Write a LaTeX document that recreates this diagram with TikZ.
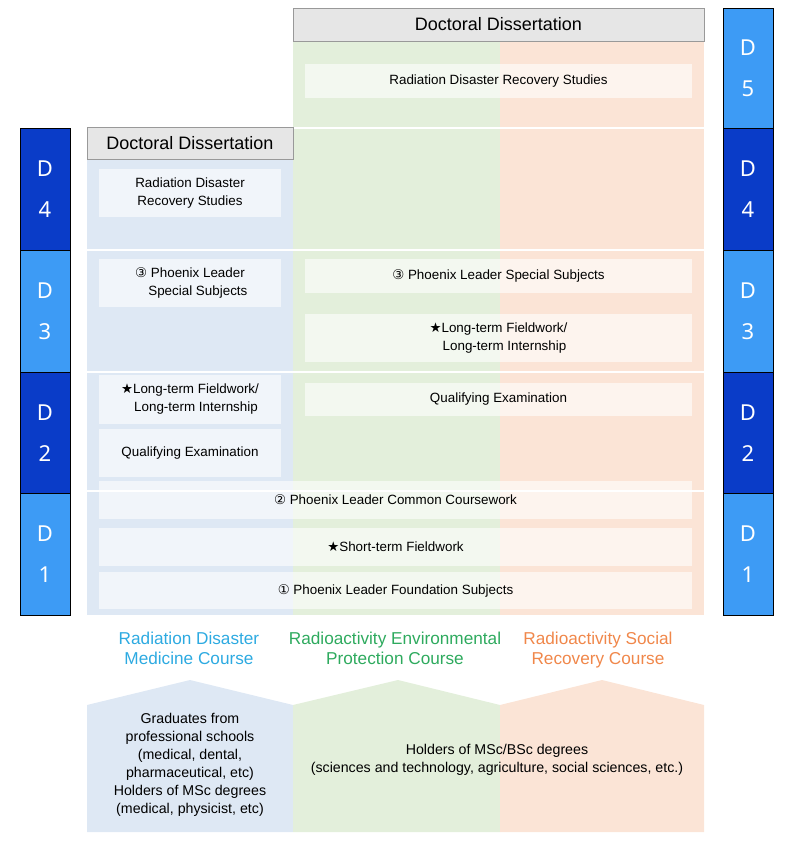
\documentclass[tikz,border=0pt]{standalone}
\usepackage{fontspec}
\setmainfont{Liberation Sans}
\newfontfamily\dfont{Noto Sans}
\newfontfamily\symf{DejaVu Sans}
\definecolor{dkblue}{HTML}{0A3CC8}
\definecolor{ltblue}{HTML}{3D9BF5}
\definecolor{bgblue}{HTML}{DEE8F4}
\definecolor{bggreen}{HTML}{E3EFDB}
\definecolor{bgorange}{HTML}{FBE4D6}
\definecolor{hdrgray}{HTML}{E6E6E6}
\definecolor{cblue}{HTML}{2DAAE1}
\definecolor{cgreen}{HTML}{2EAA5E}
\definecolor{corange}{HTML}{F0874A}
\newcommand{\cnum}[1]{{\symf #1}}
\tikzset{
  dbox/.style={draw=black, line width=0.8pt, minimum width=50, minimum height=122, inner sep=0pt,
    text=white, align=center, font=\dfont\fontsize{22}{41}\selectfont},
  dark/.style={fill=dkblue},
  light/.style={fill=ltblue},
  hdr/.style={draw=gray!80, fill=hdrgray, line width=0.8pt, inner sep=0pt, font=\fontsize{18}{20}\selectfont},
  cell/.style={fill=white, fill opacity=0.6, text opacity=1, inner sep=0pt, align=center,
    font=\fontsize{13.4}{18}\selectfont},
  course/.style={align=center, font=\fontsize{17.2}{20}\selectfont},
  sep/.style={white, line width=1.2pt},
  entry/.style={align=center, font=\fontsize{14.2}{18}\selectfont}
}
\begin{document}
\begin{tikzpicture}[x=1pt,y=-1pt]
\useasboundingbox (0,0) rectangle (791,850);
% column backgrounds
\fill[bgblue] (87,159) rectangle (293,615);
\fill[bggreen] (293,41) rectangle (500,615);
\fill[bgorange] (500,41) rectangle (704,615);
% separators
\draw[sep] (293,128) -- (704,128);
\draw[sep] (87,250) -- (704,250);
\draw[sep] (87,372) -- (704,372);
\draw[sep] (87,491) -- (704,491);
% headers
\node[hdr, minimum width=411, minimum height=33] (hdrR) at (498.5,24.5) {Doctoral Dissertation};
\node[hdr, minimum width=206, minimum height=32] (hdrL) at (190,143) {Doctoral Dissertation};
% year boxes left
\node[dbox, dark]  (L4) at (45,189) {D\\4};
\node[dbox, light] (L3) at (45,311) {D\\3};
\node[dbox, dark]  (L2) at (45,433) {D\\2};
\node[dbox, light] (L1) at (45,554.5) {D\\1};
% year boxes right
\node[dbox, light, minimum height=120] (R5) at (748,68) {D\\5};
\node[dbox, dark]  (R4) at (748,189) {D\\4};
\node[dbox, light] (R3) at (748,311) {D\\3};
\node[dbox, dark]  (R2) at (748,433) {D\\2};
\node[dbox, light] (R1) at (748,554.5) {D\\1};
% cells
\node[cell, minimum width=387, minimum height=34] (rdrsR) at (498.5,81) {Radiation Disaster Recovery Studies};
\node[cell, minimum width=182, minimum height=48] (rdrsL) at (190,193) {Radiation Disaster\\Recovery Studies};
\node[cell, minimum width=182, minimum height=48] (plssL) at (190,283) {\cnum{③} Phoenix Leader\\\phantom{\cnum{③} }Special Subjects};
\node[cell, minimum width=387, minimum height=34] (plssR) at (498.5,276) {\cnum{③} Phoenix Leader Special Subjects};
\node[cell, minimum width=387, minimum height=48] (ltfR) at (498.5,338) {\cnum{★}Long-term Fieldwork/\\\phantom{\cnum{★}}Long-term Internship};
\node[cell, minimum width=182, minimum height=49] (ltfL) at (190,399.5) {\cnum{★}Long-term Fieldwork/\\\phantom{\cnum{★}}Long-term Internship};
\node[cell, minimum width=182, minimum height=48] (qeL) at (190,453) {Qualifying Examination};
\node[cell, minimum width=387, minimum height=33] (qeR) at (498.5,399.5) {Qualifying Examination};
\node[cell, minimum width=593, minimum height=38] (plcc) at (395.5,500) {\cnum{②} Phoenix Leader Common Coursework};
\node[cell, minimum width=593, minimum height=38] (stf) at (395.5,547) {\cnum{★}Short-term Fieldwork};
\node[cell, minimum width=593, minimum height=37] (plfs) at (395.5,590.5) {\cnum{①} Phoenix Leader Foundation Subjects};
% course labels
\node[course, text=cblue] (cmed) at (189,650) {\strut Radiation Disaster\\Medicine Course\strut};
\node[course, text=cgreen] (cenv) at (395,650) {\strut Radioactivity Environmental\\Protection Course\strut};
\node[course, text=corange] (csoc) at (598,650) {\strut Radioactivity Social\\Recovery Course\strut};
% entry arrows
\fill[bgblue] (87,705) -- (190,680) -- (293,705) -- (293,832) -- (87,832) -- cycle;
\fill[bggreen] (293,705) -- (398,680) -- (500,705) -- (500,832) -- (293,832) -- cycle;
\fill[bgorange] (500,705) -- (602,680) -- (704,705) -- (704,832) -- (500,832) -- cycle;
\node[entry] (eL) at (190,765) {Graduates from\\professional schools\\(medical, dental,\\pharmaceutical, etc)\\Holders of MSc degrees\\(medical, physicist, etc)};
\node[entry] (eR) at (497,760) {Holders of MSc/BSc degrees\\(sciences and technology, agriculture, social sciences, etc.)};
\end{tikzpicture}
\end{document}
